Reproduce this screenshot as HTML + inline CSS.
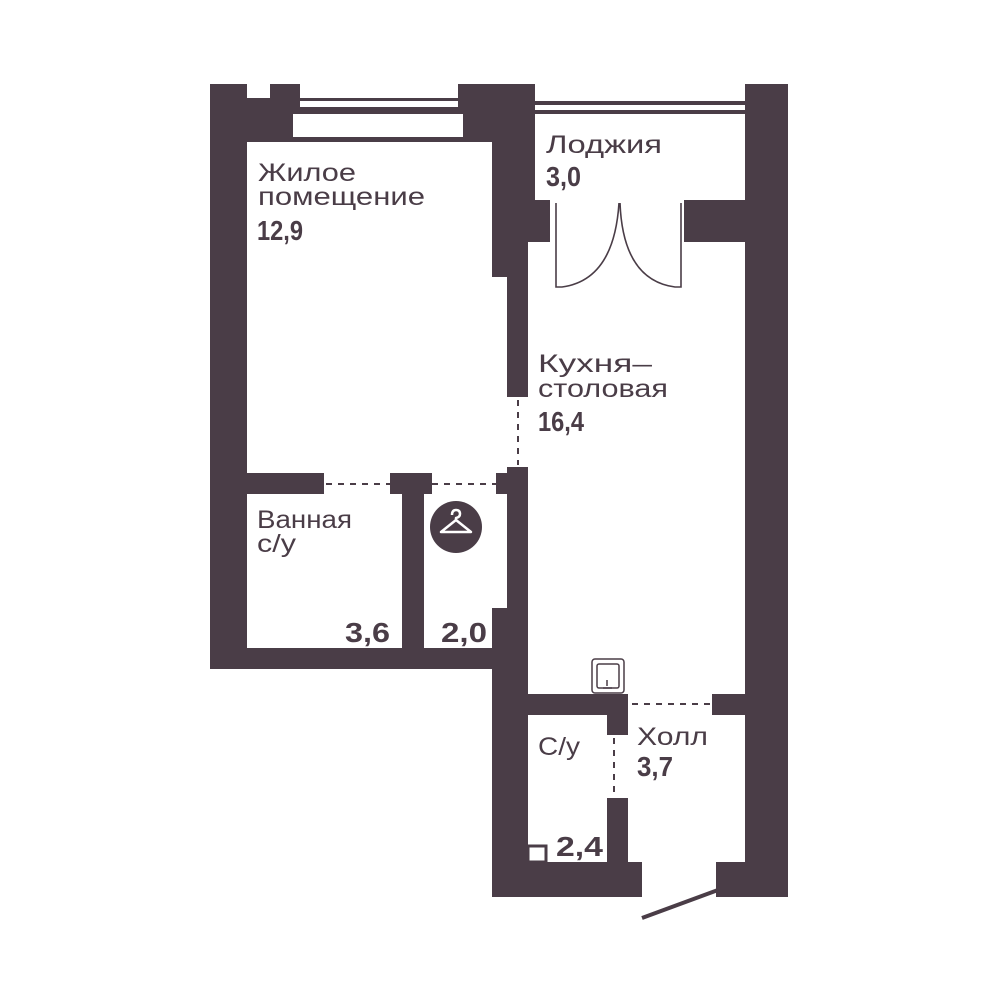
<!DOCTYPE html>
<html><head><meta charset="utf-8"><style>
html,body{margin:0;padding:0;background:#fff}
svg{display:block}
text{font-family:"Liberation Sans","DejaVu Sans",sans-serif;fill:#4a3d47}
.r{font-size:25px}
.b{font-size:28px;font-weight:bold}
</style></head><body>
<svg width="999" height="1000" viewBox="0 0 999 1000" xmlns="http://www.w3.org/2000/svg">
<g fill="#4a3d47">
<rect x="210" y="84" width="37" height="585"/>
<rect x="210" y="98" width="282" height="44"/>
<rect x="270" y="84" width="30" height="20"/>
<rect x="458" y="84" width="34" height="20"/>
<rect x="492" y="84" width="43" height="116"/>
<rect x="492" y="196" width="58" height="46"/>
<rect x="492" y="196" width="36" height="81"/>
<rect x="507" y="240" width="21" height="157"/>
<rect x="745" y="84" width="43" height="813"/>
<rect x="684" y="200" width="104" height="42"/>
<rect x="210" y="473" width="114" height="21"/>
<rect x="390" y="473" width="42" height="21"/>
<rect x="402" y="473" width="22" height="190"/>
<rect x="496" y="473" width="32" height="21"/>
<rect x="507" y="467" width="21" height="200"/>
<rect x="210" y="648" width="318" height="21"/>
<rect x="492" y="608" width="36" height="289"/>
<rect x="528" y="694" width="100" height="21"/>
<rect x="607" y="694" width="21" height="41"/>
<rect x="607" y="798" width="21" height="70"/>
<rect x="712" y="694" width="41" height="21"/>
<rect x="492" y="862" width="150" height="35"/>
<rect x="716" y="862" width="72" height="35"/>
<circle cx="456" cy="527" r="26"/>
</g>
<rect x="293" y="114" width="170" height="23" fill="#fff"/>
<rect x="300" y="100" width="158" height="7" fill="#fff"/>
<rect x="300" y="84" width="158" height="14" fill="#fff"/>
<rect x="535" y="84" width="210" height="17" fill="#fff"/>
<rect x="535" y="105" width="210" height="5" fill="#fff"/>
<rect x="535" y="114" width="210" height="86" fill="#fff"/>
<rect x="535" y="101" width="210" height="4" fill="#4a3d47"/>
<rect x="535" y="110" width="210" height="4" fill="#4a3d47"/>
<rect x="300" y="98" width="158" height="3" fill="#4a3d47"/>
<rect x="300" y="107" width="158" height="3" fill="#4a3d47"/>
<g fill="none" stroke="#4a3d47" stroke-width="1.6">
<path d="M556 203 V287 H562 Q614 280 619 203"/>
<path d="M681 203 V287 H675 Q623 280 620 203"/>
<path d="M642 918 L718 890" stroke-width="4"/>
<rect x="528" y="846" width="18" height="16" fill="#fff" stroke-width="3"/>
</g>
<g stroke="#4a3d47" stroke-width="2" stroke-dasharray="6,6" fill="none">
<path d="M518 400 V465"/>
<path d="M326 484 H390"/>
<path d="M432 484 H496"/>
<path d="M614 738 V798"/>
<path d="M632 704 H712"/>
</g>
<path d="M452 515 q0 -5 4 -5 q4 0 4 4 q0 3 -4 4 v2 l15 12 h-30 l15 -12" fill="none" stroke="#fff" stroke-width="2.5" stroke-linejoin="round"/>
<g fill="none" stroke="#4a3d47" stroke-width="1.5">
<rect x="592" y="659" width="32" height="34" rx="3"/>
<rect x="597" y="664" width="22" height="24" rx="2"/>
<path d="M607 680 v6 M603 688 h9"/>
</g>
<text class="r" x="258" y="181" textLength="98" lengthAdjust="spacingAndGlyphs">Жилое</text>
<text class="r" x="258" y="205" textLength="167" lengthAdjust="spacingAndGlyphs">помещение</text>
<text class="b" x="257" y="240" textLength="46" lengthAdjust="spacingAndGlyphs">12,9</text>
<text class="r" x="546" y="153" textLength="116" lengthAdjust="spacingAndGlyphs">Лоджия</text>
<text class="b" x="546" y="186" textLength="35" lengthAdjust="spacingAndGlyphs">3,0</text>
<text class="r" x="538" y="372" textLength="114" lengthAdjust="spacingAndGlyphs">Кухня–</text>
<text class="r" x="538" y="397" textLength="130" lengthAdjust="spacingAndGlyphs">столовая</text>
<text class="b" x="538" y="431" textLength="46" lengthAdjust="spacingAndGlyphs">16,4</text>
<text class="r" x="257" y="528" textLength="95" lengthAdjust="spacingAndGlyphs">Ванная</text>
<text class="r" x="257" y="552" textLength="39" lengthAdjust="spacingAndGlyphs">с/у</text>
<text class="b" x="345" y="642" textLength="45" lengthAdjust="spacingAndGlyphs">3,6</text>
<text class="b" x="441" y="642" textLength="46" lengthAdjust="spacingAndGlyphs">2,0</text>
<text class="r" x="538" y="755" textLength="42" lengthAdjust="spacingAndGlyphs">С/у</text>
<text class="r" x="637" y="745" textLength="71" lengthAdjust="spacingAndGlyphs">Холл</text>
<text class="b" x="637" y="776" textLength="36" lengthAdjust="spacingAndGlyphs">3,7</text>
<text class="b" x="556" y="856" textLength="47" lengthAdjust="spacingAndGlyphs">2,4</text>
</svg>
</body></html>
